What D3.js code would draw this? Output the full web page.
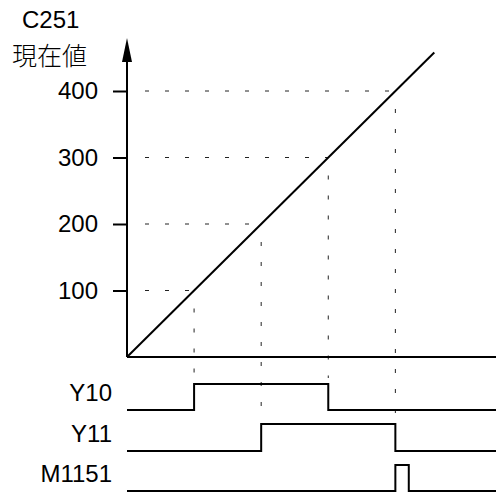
<!DOCTYPE html>
<html>
<head>
<meta charset="utf-8">
<script src="https://cdn.jsdelivr.net/npm/d3@7"></script>
<style>
  body { margin: 0; background: #fff; }
  svg text { font-family: "Liberation Sans", Arial, sans-serif; font-size: 24px; fill: #000; }
  .cjk { font-family: "Noto Sans CJK JP", sans-serif; font-size: 25px; font-weight: 300; }
</style>
</head>
<body>
<svg id="chart" width="496" height="493"></svg>
<script>
// 計数値の目盛り
const yTicks = [100, 200, 300, 400];
// 現在値の直線 (始点, 終点)
const countLine = [0, 458];
// 出力信号: [立上り, 立下り] (計数値単位)
const signalNames = ["Y10", "Y11", "M1151"];
const signalOn = [100, 200, 400];
const signalOff = [300, 400, 420];
// 縦点線がどの信号まで伸びるか (信号 index)
const guideEnds = [0, 1, 0, 1];

const svg = d3.select("#chart");
const W = 496, H = 493;

const x = d3.scaleLinear().domain([0, 550]).range([127, 496]);
const y = d3.scaleLinear().domain([0, 400]).range([357, 91]);

// 信号の段 (high / low の y)
const rowHigh = [384, 424, 465];
const rowLow = [410, 451, 491];

// 軸ラベル
svg.append("text").attr("x", 22).attr("y", 28).text("C251");
svg.append("text").attr("class", "cjk").attr("x", 12).attr("y", 65).text("現在値");

// 点線ガイド
const dash = svg.append("g").attr("stroke", "#222").attr("stroke-width", 1).attr("stroke-dasharray", "4,16");
yTicks.forEach((v, i) => {
  dash.append("line")
    .attr("x1", x(0) + 18).attr("x2", x(v))
    .attr("y1", y(v)).attr("y2", y(v));
  dash.append("line")
    .attr("x1", x(v)).attr("x2", x(v))
    .attr("y1", y(v) + 18).attr("y2", rowHigh[guideEnds[i]] - 6);
});

// 縦軸 (矢印付き)
svg.append("line")
  .attr("x1", x(0)).attr("x2", x(0))
  .attr("y1", y(0)).attr("y2", 60)
  .attr("stroke", "#000").attr("stroke-width", 2);
svg.append("path")
  .attr("d", `M${x(0)},38 L${x(0) - 5},62 L${x(0) + 5},62 Z`)
  .attr("fill", "#000");

// 目盛り
const yAxis = d3.axisLeft(y).tickValues(yTicks).tickSize(14).tickPadding(15);
const ag = svg.append("g").attr("transform", `translate(${x(0)},0)`).call(yAxis);
ag.select(".domain").remove();
ag.selectAll(".tick line").attr("stroke", "#000").attr("stroke-width", 2);
ag.selectAll(".tick text")
  .style("font-family", "'Liberation Sans', Arial, sans-serif")
  .style("font-size", "24px").attr("fill", "#000");

// 横軸
svg.append("line")
  .attr("x1", x(0)).attr("x2", W)
  .attr("y1", y(0)).attr("y2", y(0))
  .attr("stroke", "#000").attr("stroke-width", 2);

// 現在値の直線
svg.append("line")
  .attr("x1", x(countLine[0])).attr("y1", y(countLine[0]))
  .attr("x2", x(countLine[1])).attr("y2", y(countLine[1]))
  .attr("stroke", "#000").attr("stroke-width", 2);

// 出力信号
signalNames.forEach((name, i) => {
  const hi = rowHigh[i], lo = rowLow[i];
  const pts = [
    [x(0), lo], [x(signalOn[i]), lo], [x(signalOn[i]), hi],
    [x(signalOff[i]), hi], [x(signalOff[i]), lo], [W, lo]
  ];
  svg.append("path")
    .attr("d", d3.line()(pts))
    .attr("fill", "none").attr("stroke", "#000").attr("stroke-width", 2);
  svg.append("text")
    .attr("x", 112).attr("y", lo - 9)
    .attr("text-anchor", "end")
    .text(name);
});
</script>
</body>
</html>
